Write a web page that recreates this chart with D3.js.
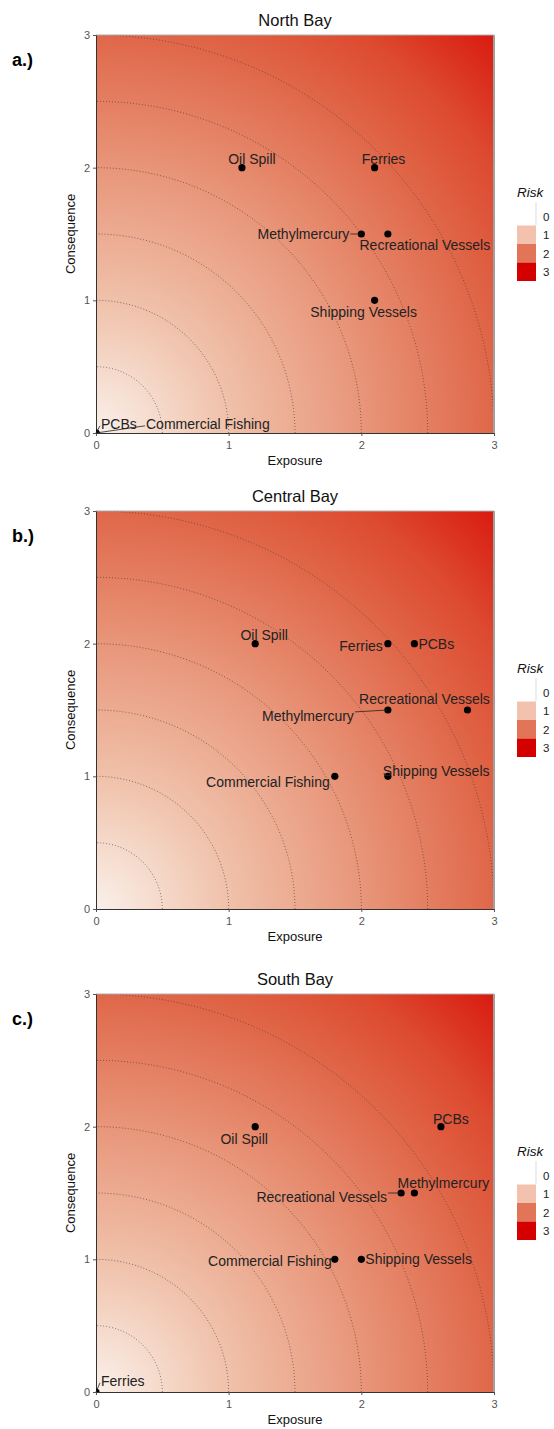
<!DOCTYPE html>
<html><head><meta charset="utf-8">
<script src="https://cdn.jsdelivr.net/npm/d3@7"></script>
<style>body{margin:0;background:#fff}svg{display:block}</style>
</head><body>
<script>
// ---------- DATA ----------
const panelTitles = ["North Bay", "Central Bay", "South Bay"];
const panelLetters = ["a.)", "b.)", "c.)"];
const stressors = ["Oil Spill","Ferries","Methylmercury","Recreational Vessels","Shipping Vessels","PCBs","Commercial Fishing"];
const exposureNorth    = [1.1, 2.1, 2.0, 2.2, 2.1, 0, 0];
const consequenceNorth = [2.0, 2.0, 1.5, 1.5, 1.0, 0, 0];
const exposureCentral    = [1.2, 2.2, 2.2, 2.8, 2.2, 2.4, 1.8];
const consequenceCentral = [2.0, 2.0, 1.5, 1.5, 1.0, 2.0, 1.0];
const exposureSouth    = [1.2, 0, 2.4, 2.3, 2.0, 2.6, 1.8];
const consequenceSouth = [2.0, 0, 1.5, 1.5, 1.0, 2.0, 1.0];
const axisTicks = [0, 1, 2, 3];
const contourRadii = [0.5, 1, 1.5, 2, 2.5, 3];
const legendBreaks = [0, 1, 2, 3];

// ---------- LAYOUT / STYLE ----------
const W = 554, H = 1429;
const plotLeft = 96, plotSize = 398;
const plotTops = [35, 511, 994];
const legendColors = ["#ffffff", "#f2c2ae", "#e27558", "#d40000"];
const bgDomain = [0, 0.5, 1, 2, 3, 3.6, 4.243];
const bgRange = ["#faf0ea", "#f5d9ca", "#f0c1aa", "#e8967a", "#e06749", "#dd4a30", "#d91a10"];
// label placement (pixels relative to the point): [dx, dy(center), anchor, segment]
const labelLayout = [
  { "Oil Spill":[10,-9,"middle"], "Ferries":[9,-9,"middle"], "Methylmercury":[-12,0,"end",true],
    "Recreational Vessels":[37,11,"middle"], "Shipping Vessels":[-11,12,"middle"],
    "PCBs":[5,-9,"start",true], "Commercial Fishing":[50,-9,"start",true] },
  { "Oil Spill":[9,-9,"middle"], "Ferries":[-5,2,"end"], "Methylmercury":[-34,6,"end",true],
    "Recreational Vessels":[-43,-11,"middle"], "Shipping Vessels":[-5,-5,"start"],
    "PCBs":[4,0,"start"], "Commercial Fishing":[-5,6,"end"] },
  { "Oil Spill":[-11,12,"middle"], "Ferries":[5,-11,"start",true], "Methylmercury":[29,-10,"middle"],
    "Recreational Vessels":[-14,4,"end",true], "Shipping Vessels":[4,0,"start"],
    "PCBs":[10,-8,"middle"], "Commercial Fishing":[-3,2,"end"] }
];

const panels = [
  {x: exposureNorth, y: consequenceNorth},
  {x: exposureCentral, y: consequenceCentral},
  {x: exposureSouth, y: consequenceSouth}
];

const svg = d3.select("body").append("svg").attr("width", W).attr("height", H)
  .style("font-family", "'Liberation Sans', Arial, sans-serif");

const bgColor = d3.scaleLinear().domain(bgDomain).range(bgRange).interpolate(d3.interpolateRgb).clamp(true);
const LUT = d3.range(0, 1001).map(i => d3.rgb(bgColor(i / 1000 * 4.243)));

panels.forEach((p, pi) => {
  const top = plotTops[pi];
  const x = d3.scaleLinear().domain([0, 3]).range([plotLeft, plotLeft + plotSize]);
  const y = d3.scaleLinear().domain([0, 3]).range([top + plotSize, top]);
  const g = svg.append("g");

  // background raster
  const cv = document.createElement("canvas");
  cv.width = plotSize; cv.height = plotSize;
  const ctx = cv.getContext("2d");
  const img = ctx.createImageData(plotSize, plotSize);
  for (let j = 0; j < plotSize; j++) {
    const yy = y.invert(top + j + 0.5);
    for (let i = 0; i < plotSize; i++) {
      const xx = x.invert(plotLeft + i + 0.5);
      const r = Math.sqrt(xx * xx + yy * yy);
      const c = LUT[Math.min(1000, Math.round(r / 4.243 * 1000))];
      const k = (j * plotSize + i) * 4;
      img.data[k] = c.r; img.data[k+1] = c.g; img.data[k+2] = c.b; img.data[k+3] = 255;
    }
  }
  ctx.putImageData(img, 0, 0);
  g.append("image").attr("x", x(0)).attr("y", y(3)).attr("width", plotSize).attr("height", plotSize)
    .attr("href", cv.toDataURL());

  const clipId = "clip" + pi;
  g.append("clipPath").attr("id", clipId).append("rect")
    .attr("x", x(0)).attr("y", y(3)).attr("width", plotSize).attr("height", plotSize);

  // contour circles
  const line = d3.line().x(d => x(d[0])).y(d => y(d[1]));
  const cg = g.append("g").attr("clip-path", `url(#${clipId})`);
  contourRadii.forEach(rad => {
    const pts = d3.range(0, 91).map(a => [rad * Math.cos(a * Math.PI / 180), rad * Math.sin(a * Math.PI / 180)]);
    cg.append("path").attr("d", line(pts)).attr("fill", "none")
      .attr("stroke", "#333").attr("stroke-width", 0.7).attr("stroke-dasharray", "1,2").attr("opacity", 0.85);
  });

  // border
  g.append("line").attr("x1", x(0)).attr("x2", x(3)).attr("y1", y(3)).attr("y2", y(3))
    .attr("stroke", "#b0b0b0").attr("stroke-width", 1);
  g.append("line").attr("x1", x(3)).attr("x2", x(3)).attr("y1", y(3)).attr("y2", y(0))
    .attr("stroke", "#a0a0a0").attr("stroke-width", 2);

  // axes
  const xAxis = g.append("g").attr("transform", `translate(0,${y(0)})`)
    .call(d3.axisBottom(x).tickValues(axisTicks).tickSize(3).tickSizeOuter(0).tickFormat(d3.format("d")));
  const yAxis = g.append("g").attr("transform", `translate(${x(0)},0)`)
    .call(d3.axisLeft(y).tickValues(axisTicks).tickSize(3).tickSizeOuter(0).tickFormat(d3.format("d")));
  [xAxis, yAxis].forEach(a => {
    a.select(".domain").attr("stroke", "#333").attr("stroke-width", 1);
    a.selectAll(".tick line").attr("stroke", "#555");
    a.selectAll(".tick text").attr("fill", "#555").style("font-size", "11px")
      .style("font-family", "'Liberation Sans', Arial, sans-serif");
  });
  xAxis.selectAll(".tick text").attr("dy", "0.95em");

  // axis titles
  g.append("text").attr("x", (x(0) + x(3)) / 2).attr("y", y(0) + 32).attr("text-anchor", "middle")
    .style("font-size", "13px").attr("fill", "#111").text("Exposure");
  g.append("text").attr("transform", `translate(${x(0) - 21},${(y(0) + y(3)) / 2}) rotate(-90)`)
    .attr("text-anchor", "middle").style("font-size", "13px").attr("fill", "#111").text("Consequence");
  // title
  g.append("text").attr("x", (x(0) + x(3)) / 2).attr("y", y(3) - 9).attr("text-anchor", "middle")
    .style("font-size", "16.5px").attr("fill", "#111").text(panelTitles[pi]);
  // panel letter
  g.append("text").attr("x", 12).attr("y", y(3) + 31).style("font-size", "18px").style("font-weight", "bold")
    .attr("fill", "#000").text(panelLetters[pi]);

  // points
  const data = stressors.map((s, i) => ({name: s, ex: p.x[i], co: p.y[i]}));
  g.append("g").attr("clip-path", `url(#${clipId})`).selectAll("circle").data(data).join("circle")
    .attr("cx", d => x(d.ex)).attr("cy", d => y(d.co)).attr("r", 3.6).attr("fill", "#000");

  // labels
  const lg = g.append("g");
  data.forEach(d => {
    const L = labelLayout[pi][d.name];
    const px = x(d.ex), py = y(d.co);
    const tx = px + L[0], ty = py + L[1];
    const t = lg.append("text").attr("x", tx).attr("y", ty).attr("dy", "0.35em")
      .attr("text-anchor", L[2]).style("font-size", "14px").attr("fill", "#222").text(d.name);
    if (L[3]) {
      const bb = t.node().getBBox();
      const sx = Math.max(bb.x - 1, Math.min(px, bb.x + bb.width + 1));
      const sy = Math.max(bb.y + 4, Math.min(py, bb.y + bb.height * 0.62));
      lg.insert("line", "text").attr("x1", px).attr("y1", py).attr("x2", sx).attr("y2", sy)
        .attr("stroke", "#222").attr("stroke-width", 0.8);
    }
  });

  // legend
  const cy = (y(0) + y(3)) / 2;
  const lx = 517, ly = cy - 42;
  g.append("text").attr("x", lx).attr("y", ly).attr("dy", "0.35em").style("font-size", "13.5px")
    .style("font-style", "italic").attr("fill", "#111").text("Risk");
  legendBreaks.forEach((b, i) => {
    const ky = ly + 15 + i * 18.5;
    g.append("rect").attr("x", lx).attr("y", ky).attr("width", 19).attr("height", 18.5)
      .attr("fill", legendColors[i]);
    g.append("text").attr("x", lx + 26).attr("y", ky + 9.5).attr("dy", "0.35em")
      .style("font-size", "11.5px").attr("fill", "#222").text(b);
  });
  g.append("line").attr("x1", lx + 19).attr("x2", lx + 19).attr("y1", ly + 10).attr("y2", ly + 33)
    .attr("stroke", "#ddd").attr("stroke-width", 1);
});
</script>
</body></html>
